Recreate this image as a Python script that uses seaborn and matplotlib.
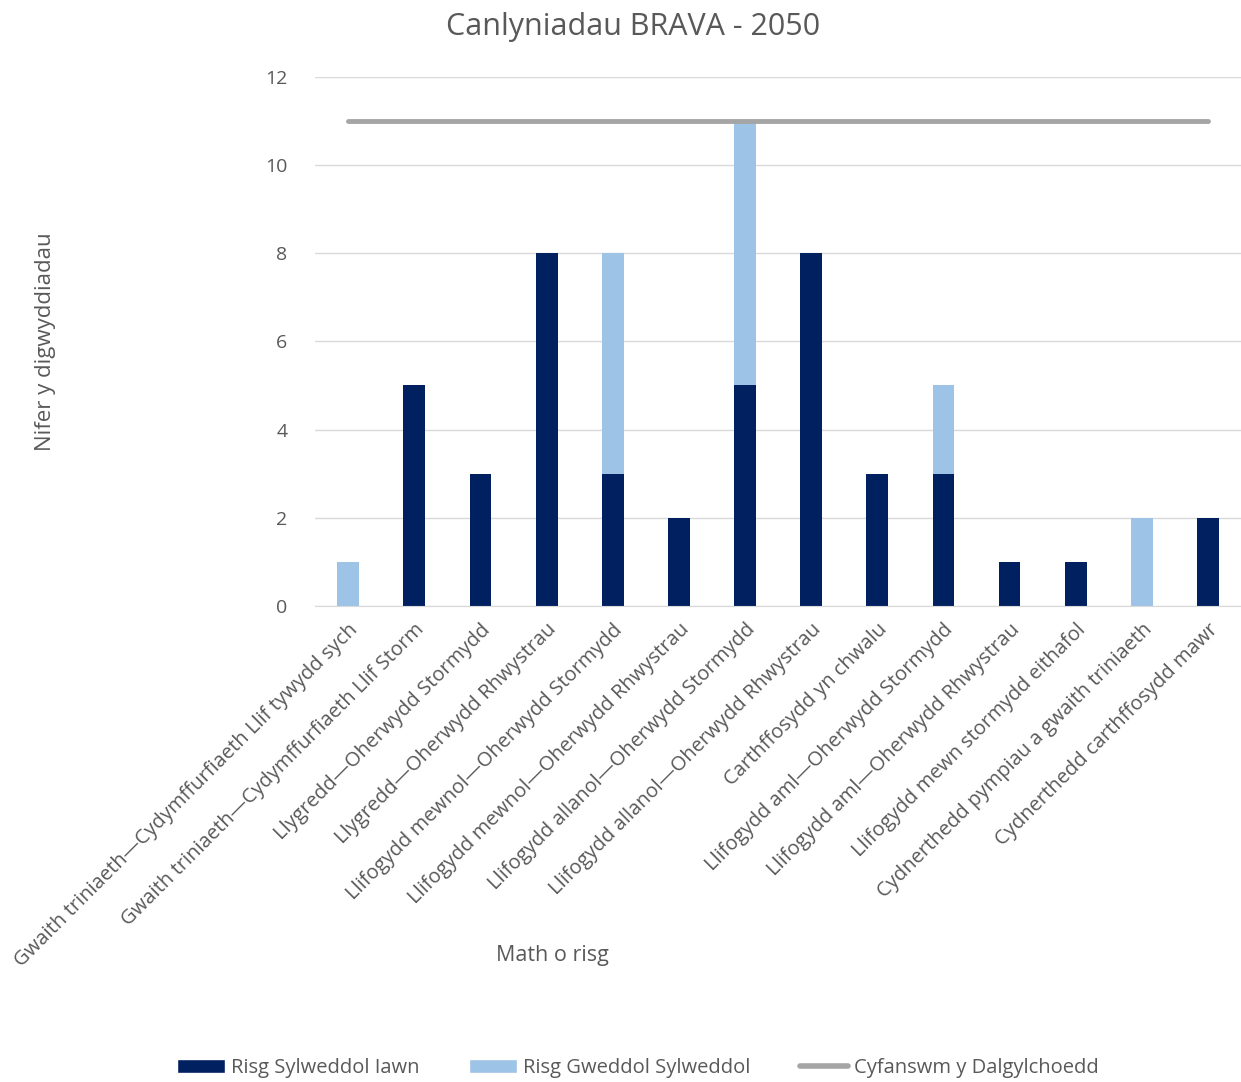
import numpy as np
import pandas as pd
import matplotlib
matplotlib.use("Agg")
import matplotlib.pyplot as plt
import seaborn as sns
from matplotlib.patches import Patch
from matplotlib.lines import Line2D

categories = [
    "Gwaith triniaeth—Cydymffurfiaeth Llif tywydd sych",
    "Gwaith triniaeth—Cydymffurfiaeth Llif Storm",
    "Llygredd—Oherwydd Stormydd",
    "Llygredd—Oherwydd Rhwystrau",
    "Llifogydd mewnol—Oherwydd Stormydd",
    "Llifogydd mewnol—Oherwydd Rhwystrau",
    "Llifogydd allanol—Oherwydd Stormydd",
    "Llifogydd allanol—Oherwydd Rhwystrau",
    "Carthffosydd yn chwalu",
    "Llifogydd aml—Oherwydd Stormydd",
    "Llifogydd aml—Oherwydd Rhwystrau",
    "Llifogydd mewn stormydd eithafol",
    "Cydnerthedd pympiau a gwaith triniaeth",
    "Cydnerthedd carthffosydd mawr",
]
very_significant = [0, 5, 3, 8, 3, 2, 5, 8, 3, 3, 1, 1, 0, 2]
moderately_significant = [1, 0, 0, 0, 5, 0, 6, 0, 0, 2, 0, 0, 2, 0]
catchment_total = [11] * 14

series_names = ["Risg Sylweddol Iawn", "Risg Gweddol Sylweddol", "Cyfanswm y Dalgylchoedd"]

dark = "#002060"
light = "#9DC3E6"
grey = "#A5A5A5"
text_col = "#595959"

sns.set_style("white")
plt.rcParams["font.family"] = ["Open Sans", "DejaVu Sans"]

df = pd.DataFrame({
    "cat": categories,
    "dark": very_significant,
    "light": moderately_significant,
})
df["stack"] = df["dark"] + df["light"]

fig = plt.figure(figsize=(12.41, 10.82), dpi=100)
ax = fig.add_axes([0.254, 0.44, 0.746, 0.489])

# stacked bars: full stack in light blue, dark part drawn over it
sns.barplot(data=df, x="cat", y="stack", color=light, width=0.33,
            saturation=1, linewidth=0, ax=ax)
sns.barplot(data=df, x="cat", y="dark", color=dark, width=0.33,
            saturation=1, linewidth=0, ax=ax)
sns.lineplot(x=np.arange(len(categories)), y=catchment_total, color=grey,
             linewidth=3.5, ax=ax, solid_capstyle="round")

ax.set_ylim(0, 12)
ax.set_xlim(-0.5, len(categories) - 0.5)
ax.set_yticks(range(0, 13, 2))
ax.yaxis.grid(True, color="#D9D9D9", linewidth=1)
ax.set_axisbelow(True)
for s in ["top", "right", "left"]:
    ax.spines[s].set_visible(False)
ax.spines["bottom"].set_color("#D9D9D9")
ax.tick_params(axis="both", length=0, colors=text_col)
ax.tick_params(axis="y", pad=20, labelsize=14)
ax.tick_params(axis="x", pad=10, labelsize=14.5)
ax.set_xticks(range(len(categories)))
ax.set_xticklabels(categories, rotation=45, ha="right", rotation_mode="anchor")
for lbl in ax.get_xticklabels():
    lbl.set_color(text_col)

ax.set_xlabel("Math o risg", fontsize=15.5, color=text_col, labelpad=0)
ax.xaxis.set_label_coords(0.256, -0.64)
ax.set_ylabel("Nifer y digwyddiadau", fontsize=16, color=text_col)
ax.yaxis.set_label_coords(-0.28, 0.5)

fig.text(0.51, 0.975, "Canlyniadau BRAVA - 2050", ha="center", va="center",
         fontsize=22, color=text_col)

handles = [
    Patch(facecolor=dark, label=series_names[0]),
    Patch(facecolor=light, label=series_names[1]),
    Line2D([0], [0], color=grey, linewidth=4, label=series_names[2]),
]
fig.legend(handles=handles, loc="center", bbox_to_anchor=(0.514, 0.013), ncol=3,
           frameon=False, fontsize=14.5, handlelength=2.4, handleheight=0.65,
           columnspacing=2.45, handletextpad=0.3, labelcolor=text_col)

fig.savefig("out.png", dpi=100)
